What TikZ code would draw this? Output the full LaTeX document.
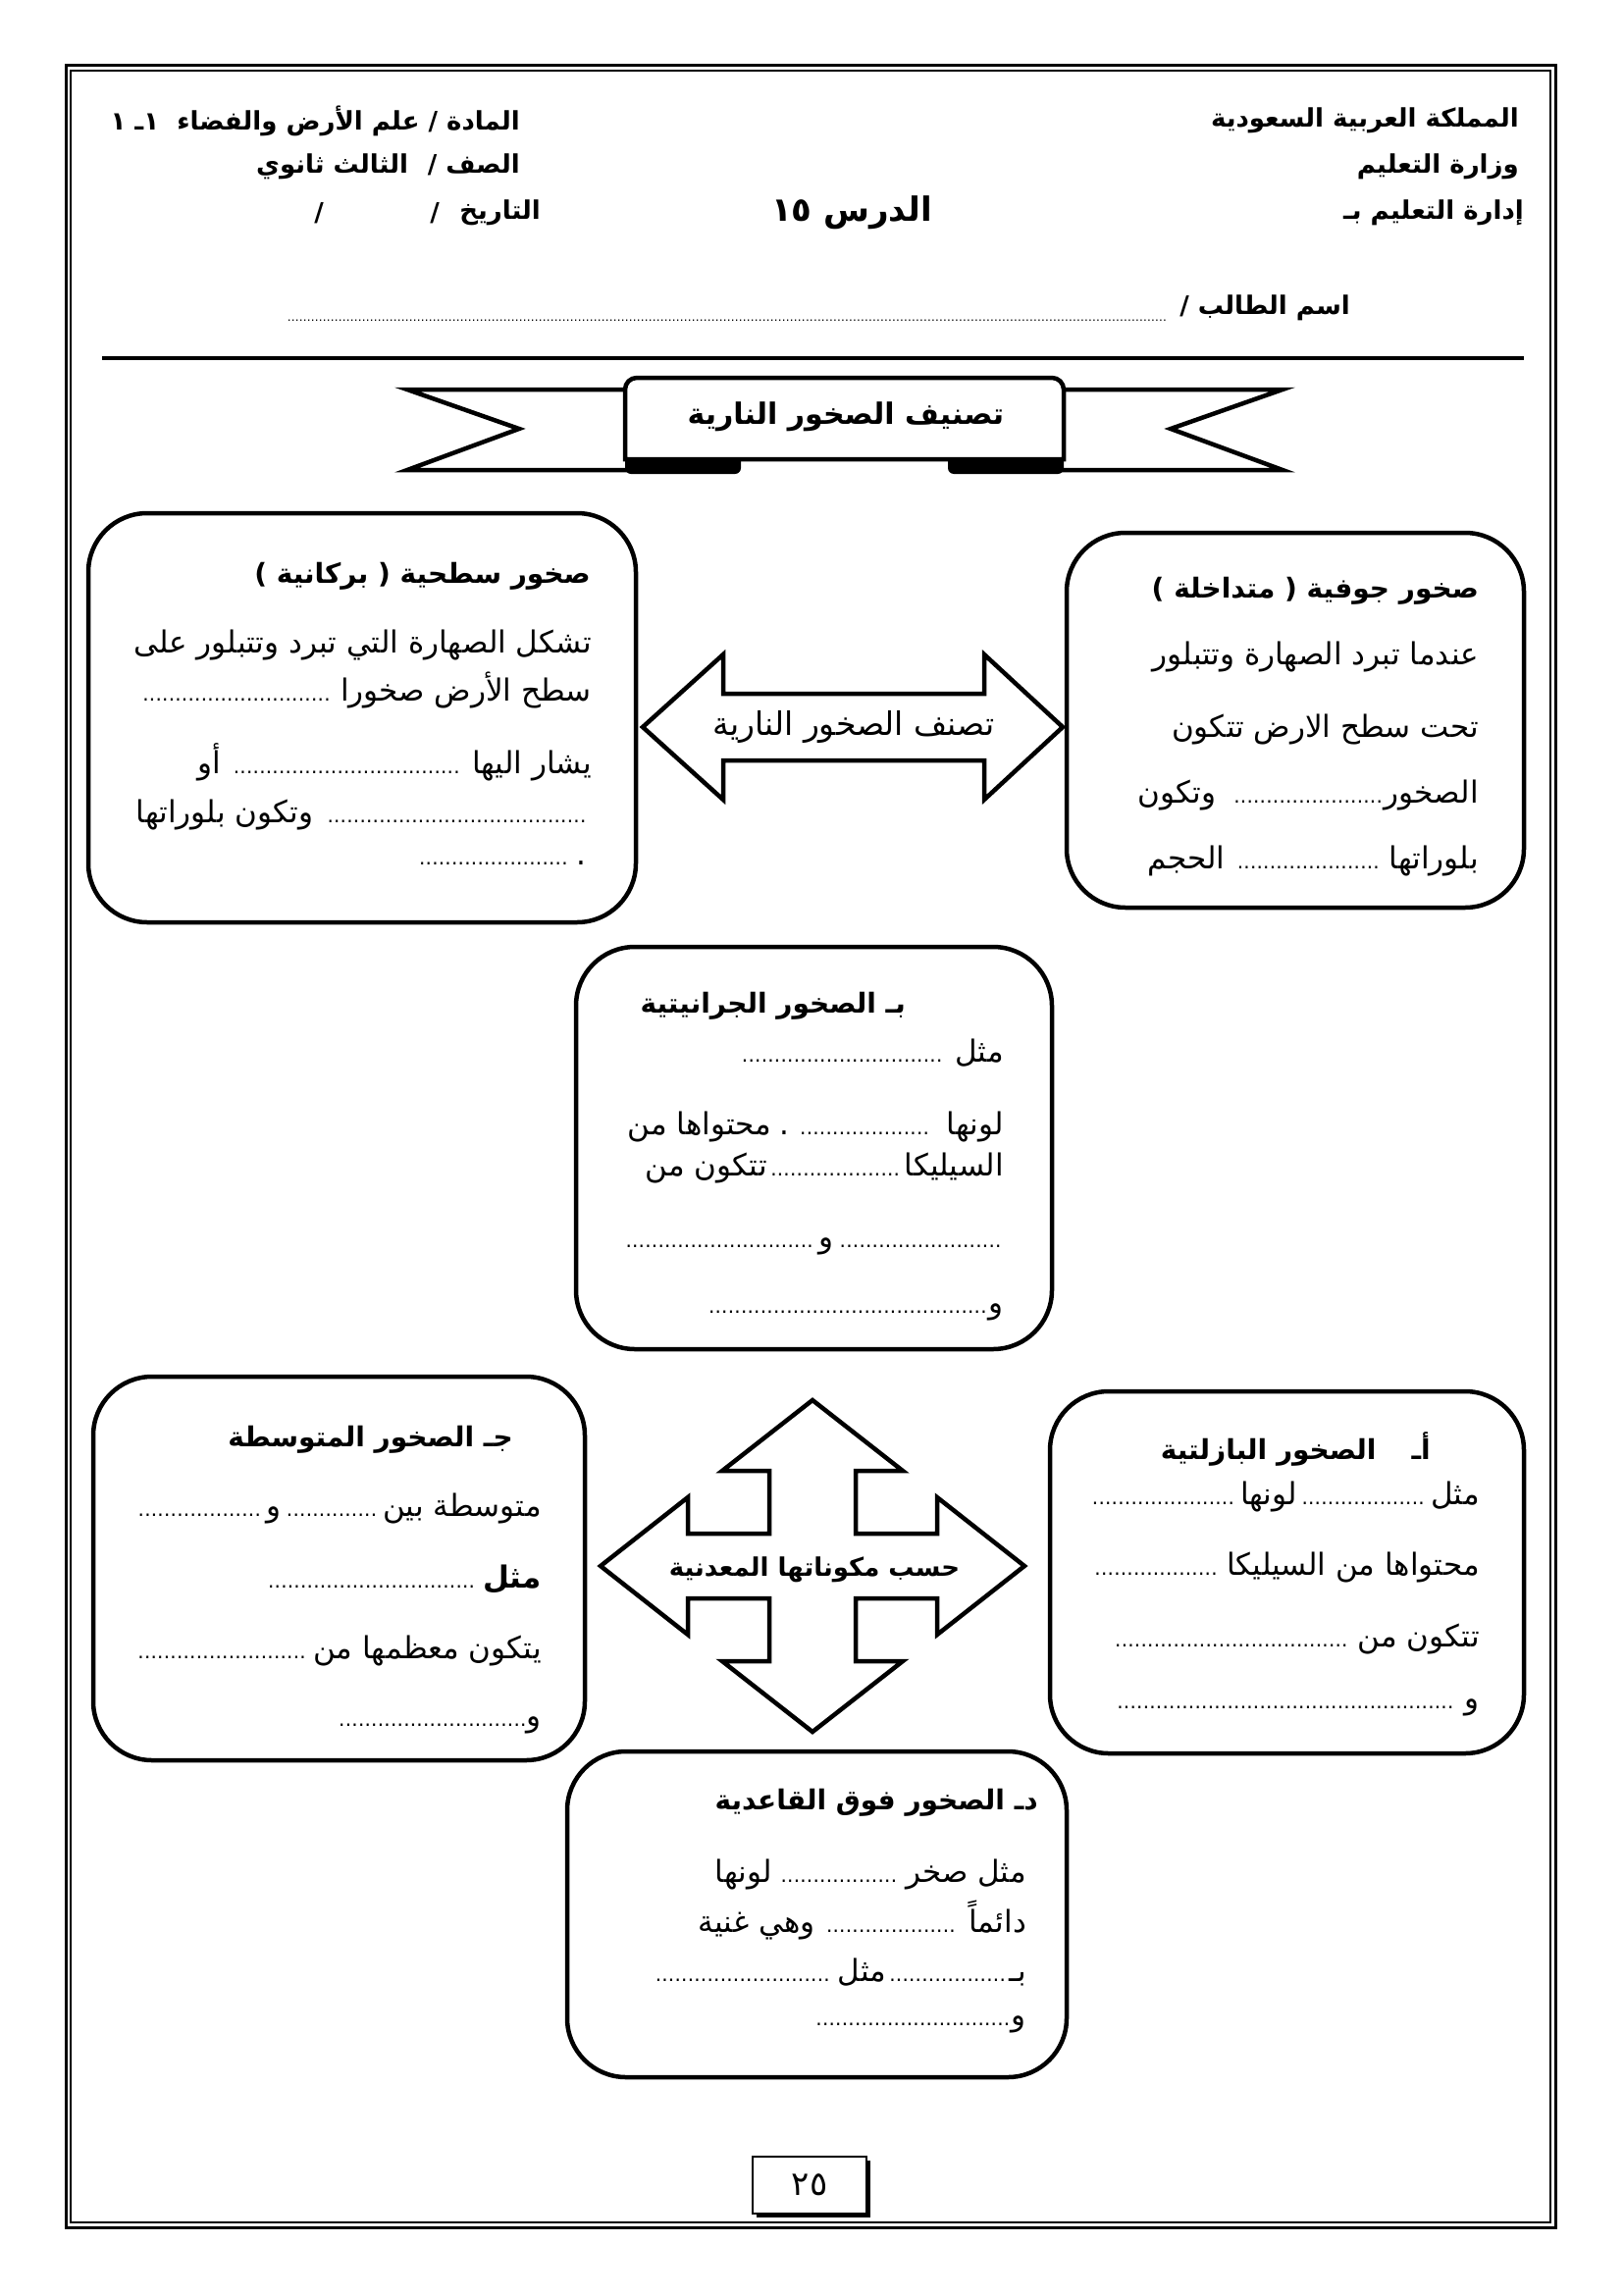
\documentclass[tikz,border=0pt]{standalone}
\usepackage{fontspec}
\setmainfont{DejaVu Sans}
\newfontfamily\arb[Script=Arabic]{DejaVu Sans}
\TeXXeTstate=1
\newcommand\bodyf{\arb\fontsize{31}{36}\selectfont}
\newcommand\titf{\arb\bfseries\fontsize{28}{34}\selectfont}
\newcommand\headf{\arb\bfseries\fontsize{26}{32}\selectfont}
\newcommand\df[1][1]{{\fontsize{20}{24}\selectfont\cleaders\hbox to 6.6pt{\hss.\hss}\hskip 0pt plus #1fil}}
\begin{document}
\begin{tikzpicture}[x=1pt,y=-1pt,
  bw/.style={line width=4.5pt, line join=miter},
  rbox/.style={draw, line width=4.5pt, rounded corners=60pt, fill=white, inner sep=0pt},
  ln/.style={anchor=east, inner sep=0pt, font=\bodyf},
  tl/.style={anchor=east, inner sep=0pt, font=\titf},
  hd/.style={anchor=east, inner sep=0pt, font=\headf}]
\useasboundingbox (0,0) rectangle (1654,2339);
% page frame
\draw[line width=3pt] (67,67) rectangle (1585,2270);
\draw[line width=1.2pt] (72,72) rectangle (1580,2265);
% header
\node[hd] (h1) at (1548,123) {\beginR المملكة العربية السعودية\endR};
\node[hd] (h2) at (1548,170) {\beginR وزارة التعليم\endR};
\node[hd] (h3) at (1553,217) {\beginR إدارة التعليم بـ\endR};
\node[hd] (h4) at (530,123) {\beginR المادة / علم الأرض والفضاء \ ١ـ ١\endR};
\node[hd] (h5) at (530,170) {\beginR الصف /\hspace{20pt}الثالث ثانوي\endR};
\node[hd] (h6) at (551,217) {\beginR التاريخ\endR};
\node[hd] (s1) at (448,217) {/};
\node[hd] (s2) at (330,217) {/};
\node[inner sep=0pt, font=\arb\bfseries\fontsize{34}{40}\selectfont] (lesson) at (868,217) {\beginR الدرس ١٥\endR};
\node[hd] (name) at (1376,314) {\beginR اسم الطالب /\endR};
\node[anchor=base west, inner sep=0pt] (namedots) at (291,327) {\hbox to 899pt{\fontsize{12}{14}\selectfont\cleaders\hbox to 4pt{\hss.\hss}\hfil}};
\draw[line width=3.5pt] (104,365) -- (1553,365);
% banner
\draw[bw, fill=white] (700,397) -- (415,397) -- (529,437) -- (415,479) -- (700,479) -- cycle;
\draw[bw, fill=white] (1020,397) -- (1307,397) -- (1193,437) -- (1307,479) -- (1020,479) -- cycle;
\fill[rounded corners=6pt] (637,460) rectangle (755,483);
\fill[rounded corners=6pt] (966,460) rectangle (1084,483);
\draw[bw, fill=white] (637,468) [rounded corners=12pt] -- (637,385) -- (1084,385) [sharp corners] -- (1084,468) -- cycle;
\node[inner sep=0pt, font=\arb\bfseries\fontsize{30}{36}\selectfont] (ban) at (862,425) {\beginR تصنيف الصخور النارية\endR};
% boxes
\node[rbox, minimum width=558pt, minimum height=417pt] (L) at (369,731.5) {};
\node[rbox, minimum width=466pt, minimum height=382pt] (R) at (1320,734) {};
\node[rbox, minimum width=485pt, minimum height=410pt] (B) at (829.5,1170) {};
\node[rbox, minimum width=501pt, minimum height=391pt] (C) at (345.5,1598.5) {};
\node[rbox, minimum width=483pt, minimum height=369pt] (A) at (1311.5,1602.5) {};
\node[rbox, minimum width=509pt, minimum height=332pt] (D) at (832.5,1951) {};
% double arrow
\draw[bw, fill=white] (655,741) -- (737,667) -- (737,707) -- (1003,707) -- (1003,667) -- (1083,741) -- (1003,815) -- (1003,775) -- (737,775) -- (737,815) -- cycle;
\node[inner sep=0pt, font=\arb\fontsize{33}{38}\selectfont] (harr) at (870,741) {\beginR تصنف الصخور النارية\endR};
% cross arrow
\begin{scope}[shift={(828,1596)}]
\draw[bw, fill=white] (0,-169) -- (92,-97) -- (44,-97) -- (44,-33) -- (127,-33) -- (127,-70) -- (216,0) -- (127,70) -- (127,33) -- (44,33) -- (44,97) -- (92,97) -- (0,169) -- (-92,97) -- (-44,97) -- (-44,33) -- (-127,33) -- (-127,70) -- (-216,0) -- (-127,-70) -- (-127,-33) -- (-44,-33) -- (-44,-97) -- (-92,-97) -- cycle;
\end{scope}
\node[inner sep=0pt, font=\arb\bfseries\fontsize{26}{32}\selectfont] (xarr) at (830,1600) {\beginR حسب مكوناتها المعدنية\endR};
% left box
\node[tl] (Lt) at (602,587) {) \beginR بركانية\endR{} ( \beginR صخور سطحية\endR};
\node[ln] (L1) at (603,658) {\beginR تشكل الصهارة التي تبرد وتتبلور على\endR};
\node[ln] (L2) at (603,703) {\hbox to 458pt{\beginR سطح الأرض صخورا \df\endR}};
\node[ln] (L3) at (603,777) {\hbox to 401pt{\beginR يشار اليها \df{} أو\endR}};
\node[ln] (L4) at (598,830) {\hbox to 459pt{\beginR\df\hspace{14pt}وتكون بلوراتها\endR}};
\node[ln] (L5) at (598,880) {\hbox to 174pt{\beginR.\hspace{6pt}\df\endR}};
% right box
\node[tl] (Rt) at (1507,602) {) \beginR متداخلة\endR{} ( \beginR صخور جوفية\endR};
\node[ln] (R1) at (1507,670) {\beginR عندما تبرد الصهارة وتتبلور\endR};
\node[ln] (R2) at (1507,743) {\beginR تحت سطح الارض تتكون\endR};
\node[ln] (R3) at (1507,810) {\hbox to 347pt{\beginR الصخور\df\hspace{16pt}وتكون\endR}};
\node[ln] (R4) at (1507,877) {\hbox to 337pt{\beginR بلوراتها \df\hspace{12pt}الحجم\endR}};
% centre box (b)
\node[tl] (Bt) at (923,1025) {\beginR بـ الصخور الجرانيتية\endR};
\node[ln] (B1) at (1023,1073) {\hbox to 270pt{\beginR مثل \df\endR}};
\node[ln] (B2) at (1023,1148) {\hbox to 383pt{\beginR لونها\hspace{15pt}\df\hspace{8pt}.\hspace{8pt}محتواها من\endR}};
\node[ln] (B3) at (1023,1190) {\hbox to 365pt{\beginR السيليكا\hspace{4pt}\df\hspace{3pt}تتكون من\endR}};
\node[ln] (B4) at (1022,1270) {\hbox to 385pt{\beginR\df\hspace{5pt}و\hspace{5pt}\df[1.15]\endR}};
\node[ln] (B5) at (1023,1337) {\hbox to 303pt{\beginR و\df\endR}};
% box (c)
\node[tl] (Ct) at (523,1467) {\beginR جـ الصخور المتوسطة\endR};
\node[ln] (C1) at (552,1537) {\hbox to 412pt{\beginR متوسطة بين\hspace{6pt}\df\hspace{5pt}و\hspace{5pt}\df[1.37]\endR}};
\node[ln] (C2) at (552,1610) {\hbox to 282pt{\beginR{\bfseries مثل}\hspace{5pt}\df\endR}};
\node[ln] (C3) at (552,1682) {\hbox to 412pt{\beginR يتكون معظمها من\hspace{7pt}\df\endR}};
\node[ln] (C4) at (552,1758) {\hbox to 207pt{\beginR و\df\endR}};
% box (a)
\node[tl] (At) at (1458,1477) {\beginR أـ\hspace{36pt}الصخور البازلتية\endR};
\node[ln] (A1) at (1508,1525) {\hbox to 395pt{\beginR مثل\hspace{5pt}\df\hspace{3pt}لونها\hspace{6pt}\df[1.13]\endR}};
\node[ln] (A2) at (1508,1597) {\hbox to 395pt{\beginR محتواها من السيليكا\hspace{7pt}\df\endR}};
\node[ln] (A3) at (1508,1670) {\hbox to 375pt{\beginR تتكون من\hspace{7pt}\df\endR}};
\node[ln] (A4) at (1508,1740) {\hbox to 371pt{\beginR و\hspace{10pt}\df\endR}};
% box (d)
\node[tl] (Dt) at (1058,1837) {\beginR دـ الصخور فوق القاعدية\endR};
\node[ln] (D1) at (1046,1910) {\hbox to 317pt{\beginR مثل صخر\hspace{7pt}\df\hspace{7pt}لونها\endR}};
\node[ln] (D2) at (1046,1957) {\hbox to 334pt{\beginR دائماً\hspace{12pt}\df\hspace{10pt}وهي غنية\endR}};
\node[ln] (D3) at (1046,2010) {\hbox to 381pt{\beginR بـ\df[0.68]مثل\hspace{5pt}\df\endR}};
\node[ln] (D4) at (1046,2063) {\hbox to 216pt{\beginR و\df\endR}};
% page number
\fill (771,2202) rectangle (887,2260);
\node[draw, fill=white, line width=2.5pt, minimum width=116pt, minimum height=58pt, inner sep=0pt, font=\arb\fontsize{34}{40}\selectfont] (pg) at (825,2227) {٢٥};
\end{tikzpicture}
\end{document}
